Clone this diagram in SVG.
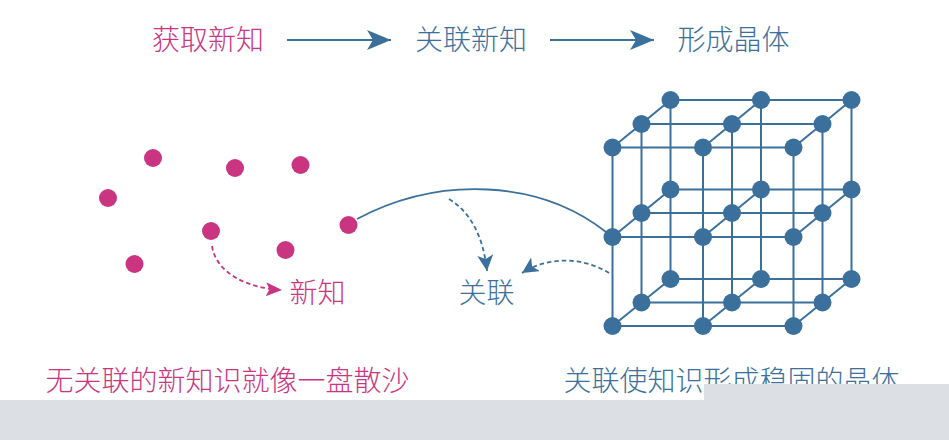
<svg xmlns="http://www.w3.org/2000/svg" width="949" height="440" viewBox="0 0 949 440">
<style>
text{font-family:"Noto Sans CJK SC","Noto Sans",sans-serif;font-weight:300}
.t{font-size:28px}
.b{font-size:28px}
.p{fill:#c93581}
.s{fill:#3b709c}
.l{stroke:#3b709c;stroke-width:2;fill:none}
.d{stroke:#3b709c;stroke-width:1.8;fill:none;stroke-dasharray:4.500 3}
.dp{stroke:#c93581;stroke-width:1.8;fill:none;stroke-dasharray:4.500 3}
</style>
<defs>
<marker id="ab" markerUnits="userSpaceOnUse" markerWidth="28" markerHeight="22" refX="24" refY="10" orient="auto"><path d="M0 0L24 10L0 20L6 10Z" fill="#3b709c"/></marker>
<marker id="as" markerUnits="userSpaceOnUse" markerWidth="18" markerHeight="18" refX="16" refY="8" orient="auto"><path d="M0 0L16 8L0 16L4 8Z" fill="#3b709c"/></marker>
<marker id="ap" markerUnits="userSpaceOnUse" markerWidth="18" markerHeight="18" refX="16" refY="7" orient="auto"><path d="M0 0L16 7L0 14L3.500 7Z" fill="#c93581"/></marker>
</defs>
<g id="connectors">
<path class="l" d="M287 40H391" marker-end="url(#ab)"/>
<path class="l" d="M550 40H654" marker-end="url(#ab)"/>
<path d="M357 219C440 175 540 180 606 232" stroke="#3b709c" stroke-width="1.800" fill="none"/>
<path class="d" d="M449 199C470 212 483 235 487 271" marker-end="url(#as)"/>
<path class="d" d="M609 273C585 258 550 255 522 273" marker-end="url(#as)"/>
<path class="dp" d="M212 246C216 272 245 288 282 290" marker-end="url(#ap)"/>
<g id="lattice" class="l">
<path d="M612.500 147.500H793.500M612.500 237H793.500M612.500 326H793.500M641.500 124H822.500M641.500 213H822.500M641.500 302.500H822.500M670.500 100H851.500M670.500 189.500H851.500M670.500 279H851.500"/>
<path d="M612.500 147.500V326M703 147.500V326M793.500 147.500V326M641.500 124V302.500M732 124V302.500M822.500 124V302.500M670.500 100V279M761 100V279M851.500 100V279"/>
<path d="M612.500 147.500L670.500 100M703 147.500L761 100M793.500 147.500L851.500 100M612.500 237L670.500 189.500M703 237L761 189.500M793.500 237L851.500 189.500M612.500 326L670.500 279M703 326L761 279M793.500 326L851.500 279"/>
</g>
</g>
<g id="flow-1"><text class="t p" x="152" y="50">获取新知</text></g>
<g id="flow-2"><text class="t s" x="415" y="50">关联新知</text></g>
<g id="flow-3"><text class="t s" x="677.500" y="50">形成晶体</text></g>
<g id="sand" class="p">
<circle cx="153" cy="158" r="9"/>
<circle cx="235" cy="168" r="9"/>
<circle cx="300.500" cy="165" r="9"/>
<circle cx="108" cy="198" r="9"/>
<circle cx="211" cy="231" r="9"/>
<circle cx="285.500" cy="250" r="9"/>
<circle cx="348.500" cy="225" r="9"/>
<circle cx="134.500" cy="264" r="9"/>
</g>
<g id="crystal" class="s">
<circle cx="670.500" cy="100" r="9"/><circle cx="761" cy="100" r="9"/><circle cx="851.500" cy="100" r="9"/>
<circle cx="641.500" cy="124" r="9"/><circle cx="732" cy="124" r="9"/><circle cx="822.500" cy="124" r="9"/>
<circle cx="612.500" cy="147.500" r="9"/><circle cx="703" cy="147.500" r="9"/><circle cx="793.500" cy="147.500" r="9"/>
<circle cx="670.500" cy="189.500" r="9"/><circle cx="761" cy="189.500" r="9"/><circle cx="851.500" cy="189.500" r="9"/>
<circle cx="641.500" cy="213" r="9"/><circle cx="732" cy="213" r="9"/><circle cx="822.500" cy="213" r="9"/>
<circle cx="612.500" cy="237" r="9"/><circle cx="703" cy="237" r="9"/><circle cx="793.500" cy="237" r="9"/>
<circle cx="670.500" cy="279" r="9"/><circle cx="761" cy="279" r="9"/><circle cx="851.500" cy="279" r="9"/>
<circle cx="641.500" cy="302.500" r="9"/><circle cx="732" cy="302.500" r="9"/><circle cx="822.500" cy="302.500" r="9"/>
<circle cx="612.500" cy="326" r="9"/><circle cx="703" cy="326" r="9"/><circle cx="793.500" cy="326" r="9"/>
</g>
<g id="label-new"><text class="t p" x="289.500" y="303">新知</text></g>
<g id="label-link"><text class="t s" x="458.500" y="303">关联</text></g>
<g id="caption-left"><text class="b p" x="45.500" y="391">无关联的新知识就像一盘散沙</text></g>
<g id="caption-right"><text class="b s" x="563.500" y="391">关联使知识形成稳固的晶体</text></g>
<path d="M0 400H704V384H949V440H0Z" fill="#dcdfe3"/>
</svg>
